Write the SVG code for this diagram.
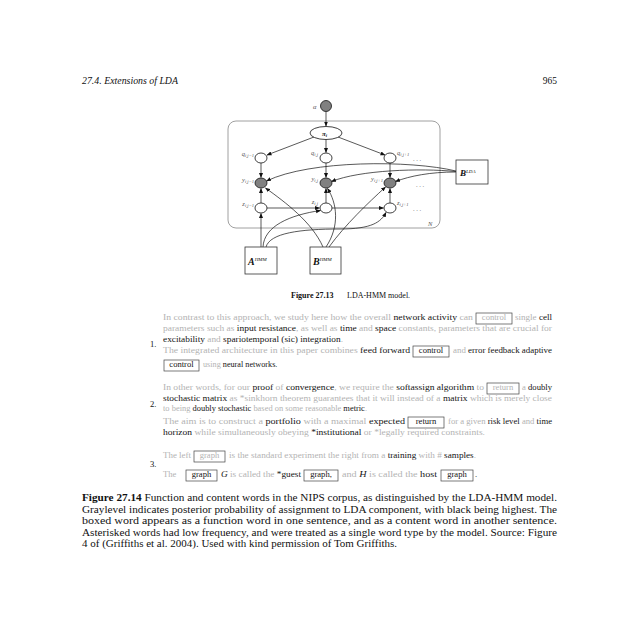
<svg xmlns="http://www.w3.org/2000/svg" width="640" height="640" viewBox="0 0 640 640">
<style>
.serif{font-family:"Liberation Serif","DejaVu Serif",serif}
.body{font-family:"Liberation Serif","DejaVu Serif",serif;font-size:8.6px}
.cap{font-family:"Liberation Serif","DejaVu Serif",serif;font-size:9.5px;fill:#111}
.g{fill:#b3b3b3}
.k{fill:#141414}
.wbox{fill:none;stroke:#444;stroke-width:0.7}
.node{fill:#fff;stroke:#111;stroke-width:0.8}
.obs{fill:#808080;stroke:#111;stroke-width:0.8}
.edge{fill:none;stroke:#111;stroke-width:0.7;marker-end:url(#ah)}
.lbl{font-family:"Liberation Serif","DejaVu Serif",serif;font-style:italic;font-size:6.5px;fill:#555}
.sub{font-size:4.6px}
.dots{font-family:"Liberation Serif",serif;font-size:6.5px;fill:#777}
.bx{fill:#fff;stroke:#333;stroke-width:0.8}
</style>
<defs>
<marker id="ah" viewBox="0 0 10 10" refX="9" refY="5" markerWidth="5" markerHeight="5" orient="auto" markerUnits="userSpaceOnUse"><path d="M0,1 L10,5 L0,9 z" fill="#111"/></marker>
</defs>
<rect width="640" height="640" fill="#fff"/>

<g id="header">
<text class="serif" x="82" y="84" font-size="9.5" font-style="italic" fill="#111" textLength="96" lengthAdjust="spacingAndGlyphs">27.4.  Extensions of LDA</text>
<text class="serif" x="557" y="84" font-size="9.5" text-anchor="end" fill="#111">965</text>
</g>

<g id="plate">
<rect x="228" y="121" width="212" height="107" rx="8" fill="none" stroke="#888" stroke-width="0.8"/>
<text class="lbl" x="428" y="226" font-size="7">N</text>
</g>

<g id="connectors">
<path class="edge" d="M326,111.5 L326,126"/>
<path class="edge" d="M314,137 L267,155"/>
<path class="edge" d="M326,139.5 L326,152.5"/>
<path class="edge" d="M338,137 L385,155"/>
<path class="edge" d="M261,163 L261,177.5"/>
<path class="edge" d="M326,163 L326,177.5"/>
<path class="edge" d="M390,163 L390,177.5"/>
<path class="edge" d="M261,203 L261,188.5"/>
<path class="edge" d="M326,203 L326,188.5"/>
<path class="edge" d="M390,203 L390,188.5"/>
<path class="edge" d="M267,208 L319.5,208"/>
<path class="edge" d="M332,208 L383.5,208"/>
<path class="edge" d="M456,171 C410,160 310,160 266.5,181"/>
<path class="edge" d="M456,171.5 C420,168 360,170 331.5,181.5"/>
<path class="edge" d="M456,172 C430,172 410,176 395.5,181.5"/>
<path class="edge" d="M261,247 L261,213.5"/>
<path class="edge" d="M263,247 C264,226 290,215 320.5,210.5"/>
<path class="edge" d="M266,247 C270,233 300,229 340,229 C372,229 381,222 386,212.5"/>
<path class="edge" d="M323,247 C312,222 285,202 265.5,188"/>
<path class="edge" d="M326,247 C340,226 337,203 327.5,188.5"/>
<path class="edge" d="M329,247 C345,225 368,203 385.5,187"/>
</g>

<g id="alpha">
<circle class="obs" cx="326" cy="106" r="5.5"/>
<text class="lbl" x="313" y="108.5" font-size="7.5">α</text>
</g>
<g id="pi">
<ellipse class="node" cx="326" cy="133" rx="16" ry="6.5"/>
<text class="serif" x="322" y="135.5" font-size="7" font-weight="bold" font-style="italic" fill="#222">π<tspan class="sub" dy="1.3">i</tspan></text>
</g>

<g id="q-jm1"><ellipse class="node" cx="261" cy="158" rx="6" ry="5"/><text class="lbl" x="254" y="156" text-anchor="end">q<tspan class="sub" dy="1.3">i,j−1</tspan></text></g>
<g id="q-j"><ellipse class="node" cx="326" cy="158" rx="6" ry="5"/><text class="lbl" x="318" y="155" text-anchor="end">q<tspan class="sub" dy="1.3">i,j</tspan></text></g>
<g id="q-jp1"><ellipse class="node" cx="390" cy="158" rx="6" ry="5"/><text class="lbl" x="397" y="155">q<tspan class="sub" dy="1.3">i,j+1</tspan></text><text class="dots" x="413" y="161">. . .</text></g>

<g id="y-jm1"><ellipse class="obs" cx="261" cy="183" rx="6" ry="5"/><text class="lbl" x="254" y="182" text-anchor="end">y<tspan class="sub" dy="1.3">i,j−1</tspan></text></g>
<g id="y-j"><ellipse class="obs" cx="326" cy="183" rx="6" ry="5"/><text class="lbl" x="318" y="181" text-anchor="end">y<tspan class="sub" dy="1.3">i,j</tspan></text></g>
<g id="y-jp1"><ellipse class="obs" cx="390" cy="183" rx="6" ry="5"/><text class="lbl" x="383" y="181" text-anchor="end">y<tspan class="sub" dy="1.3">i,j+1</tspan></text><text class="dots" x="416" y="187">. . .</text></g>

<g id="z-jm1"><ellipse class="node" cx="261" cy="208" rx="6" ry="5"/><text class="lbl" x="254" y="206" text-anchor="end">z<tspan class="sub" dy="1.3">i,j−1</tspan></text></g>
<g id="z-j"><ellipse class="node" cx="326" cy="208" rx="6" ry="5"/><text class="lbl" x="318" y="204" text-anchor="end">z<tspan class="sub" dy="1.3">i,j</tspan></text></g>
<g id="z-jp1"><ellipse class="node" cx="390" cy="208" rx="6" ry="5"/><text class="lbl" x="397" y="205">z<tspan class="sub" dy="1.3">i,j+1</tspan></text><text class="dots" x="413" y="211">. . .</text></g>

<g id="B-LDA"><rect class="bx" x="456" y="160" width="32" height="24"/><text class="serif" x="460" y="176" font-size="9" font-weight="bold" font-style="italic" fill="#111">B<tspan font-size="5" font-weight="normal" dy="-3.5">LDA</tspan></text></g>
<g id="A-HMM"><rect class="bx" x="245" y="247" width="32" height="27"/><text class="serif" x="248" y="265" font-size="10" font-weight="bold" font-style="italic" fill="#111">A<tspan font-size="5" font-weight="normal" dy="-4">HMM</tspan></text></g>
<g id="B-HMM"><rect class="bx" x="310" y="247" width="31" height="27"/><text class="serif" x="313" y="265" font-size="10" font-weight="bold" font-style="italic" fill="#111">B<tspan font-size="5" font-weight="normal" dy="-4">HMM</tspan></text></g>

<g id="caption-1327">
<text class="serif" x="291" y="298" font-size="8" font-weight="bold" fill="#111">Figure 27.13</text>
<text class="serif" x="347" y="298" font-size="8" fill="#111">LDA-HMM model.</text>
</g>

<g id="example-1" class="body">
<text x="163" y="320" textLength="310" lengthAdjust="spacingAndGlyphs"><tspan class="g">In contrast to this approach, we study here how the overall </tspan><tspan class="k">network activity</tspan><tspan class="g"> can</tspan></text>
<rect class="wbox" x="476" y="313" width="36" height="11"/>
<text class="g" x="494" y="320" text-anchor="middle">control</text>
<text x="515" y="320" textLength="37" lengthAdjust="spacingAndGlyphs"><tspan class="g">single </tspan><tspan class="k">cell</tspan></text>
<text x="163" y="331" textLength="389" lengthAdjust="spacingAndGlyphs"><tspan class="g">parameters such as </tspan><tspan class="k">input resistance</tspan><tspan class="g">, as well as </tspan><tspan class="k">time</tspan><tspan class="g"> and </tspan><tspan class="k">space</tspan><tspan class="g"> constants, parameters that are crucial for</tspan></text>
<text x="163" y="342" textLength="180" lengthAdjust="spacingAndGlyphs"><tspan class="k">excitability</tspan><tspan class="g"> and </tspan><tspan class="k">spariotemporal (sic) integration</tspan><tspan class="g">.</tspan></text>
<text class="k" x="150" y="347">1.</text>
<text x="163" y="353" textLength="247" lengthAdjust="spacingAndGlyphs"><tspan class="g">The integrated architecture in this paper combines </tspan><tspan class="k">feed forward</tspan></text>
<rect class="wbox" x="413" y="346" width="36" height="11"/>
<text class="k" x="431" y="353" text-anchor="middle">control</text>
<text x="453" y="353" textLength="99" lengthAdjust="spacingAndGlyphs"><tspan class="g">and </tspan><tspan class="k">error feedback adaptive</tspan></text>
<rect class="wbox" x="164" y="360" width="35" height="11"/>
<text class="k" x="181.5" y="367" text-anchor="middle">control</text>
<text x="203" y="367" font-size="8.2"><tspan class="g">using </tspan><tspan class="k">neural networks.</tspan></text>
</g>

<g id="example-2" class="body">
<text x="163" y="390" textLength="321" lengthAdjust="spacingAndGlyphs"><tspan class="g">In other words, for our </tspan><tspan class="k">proof</tspan><tspan class="g"> of </tspan><tspan class="k">convergence</tspan><tspan class="g">, we require the </tspan><tspan class="k">softassign algorithm</tspan><tspan class="g"> to</tspan></text>
<rect class="wbox" x="487" y="383" width="32" height="11"/>
<text class="g" x="503" y="390" text-anchor="middle">return</text>
<text x="522" y="390" textLength="30" lengthAdjust="spacingAndGlyphs"><tspan class="g">a </tspan><tspan class="k">doubly</tspan></text>
<text x="163" y="401" textLength="389" lengthAdjust="spacingAndGlyphs"><tspan class="k">stochastic matrix</tspan><tspan class="g"> as *sinkhorn theorem guarantees that it will instead of a </tspan><tspan class="k">matrix</tspan><tspan class="g"> which is merely close</tspan></text>
<text x="163" y="411" textLength="204" lengthAdjust="spacingAndGlyphs"><tspan class="g">to being </tspan><tspan class="k">doubly stochastic</tspan><tspan class="g"> based on some reasonable </tspan><tspan class="k">metric</tspan><tspan class="g">.</tspan></text>
<text class="k" x="150" y="407">2.</text>
<text x="163" y="424" textLength="242" lengthAdjust="spacingAndGlyphs"><tspan class="g">The aim is to construct a </tspan><tspan class="k">portfolio</tspan><tspan class="g"> with a maximal </tspan><tspan class="k">expected</tspan></text>
<rect class="wbox" x="408" y="417" width="36" height="11"/>
<text class="k" x="426" y="424" text-anchor="middle">return</text>
<text x="448" y="424" textLength="104" lengthAdjust="spacingAndGlyphs"><tspan class="g">for a given </tspan><tspan class="k">risk level</tspan><tspan class="g"> and </tspan><tspan class="k">time</tspan></text>
<text x="163" y="435" textLength="322" lengthAdjust="spacingAndGlyphs"><tspan class="k">horizon</tspan><tspan class="g"> while simultaneously obeying </tspan><tspan class="k">*institutional</tspan><tspan class="g"> or *legally required constraints.</tspan></text>
</g>

<g id="example-3" class="body">
<text class="g" x="163" y="458" textLength="28" lengthAdjust="spacingAndGlyphs">The left</text>
<rect class="wbox" x="194" y="451" width="31" height="11"/>
<text class="g" x="209.5" y="458" text-anchor="middle">graph</text>
<text x="229" y="458" textLength="247" lengthAdjust="spacingAndGlyphs"><tspan class="g">is the standard experiment the right from a </tspan><tspan class="k">training</tspan><tspan class="g"> with # </tspan><tspan class="k">samples</tspan><tspan class="g">.</tspan></text>
<text class="k" x="150" y="467">3.</text>
<text class="g" x="163" y="477">The</text>
<rect class="wbox" x="186" y="470" width="31" height="11"/>
<text class="k" x="201.5" y="477" text-anchor="middle">graph</text>
<text x="221" y="477" textLength="80" lengthAdjust="spacingAndGlyphs"><tspan class="k" font-style="italic">G</tspan><tspan class="g"> is called the </tspan><tspan class="k">*guest</tspan></text>
<rect class="wbox" x="304" y="470" width="34" height="11"/>
<text class="k" x="321" y="477" text-anchor="middle">graph,</text>
<text x="342" y="477" textLength="95" lengthAdjust="spacingAndGlyphs"><tspan class="g">and </tspan><tspan class="k" font-style="italic">H</tspan><tspan class="g"> is called the </tspan><tspan class="k">host</tspan></text>
<rect class="wbox" x="441" y="470" width="32" height="11"/>
<text class="k" x="457" y="477" text-anchor="middle">graph</text>
<text class="k" x="475" y="477">.</text>
</g>

<g id="caption-1314" class="cap">
<text x="82" y="501" textLength="475" lengthAdjust="spacingAndGlyphs"><tspan font-weight="bold">Figure 27.14</tspan>   Function and content words in the NIPS corpus, as distinguished by the LDA-HMM model.</text>
<text x="82" y="512.5" textLength="475" lengthAdjust="spacingAndGlyphs">Graylevel indicates posterior probability of assignment to LDA component, with black being highest. The</text>
<text x="82" y="524" textLength="475" lengthAdjust="spacingAndGlyphs">boxed word appears as a function word in one sentence, and as a content word in another sentence.</text>
<text x="82" y="535.5" textLength="475" lengthAdjust="spacingAndGlyphs">Asterisked words had low frequency, and were treated as a single word type by the model.  Source: Figure</text>
<text x="82" y="547" textLength="315" lengthAdjust="spacingAndGlyphs">4 of (Griffiths et al. 2004).  Used with kind permission of Tom Griffiths.</text>
</g>
</svg>
